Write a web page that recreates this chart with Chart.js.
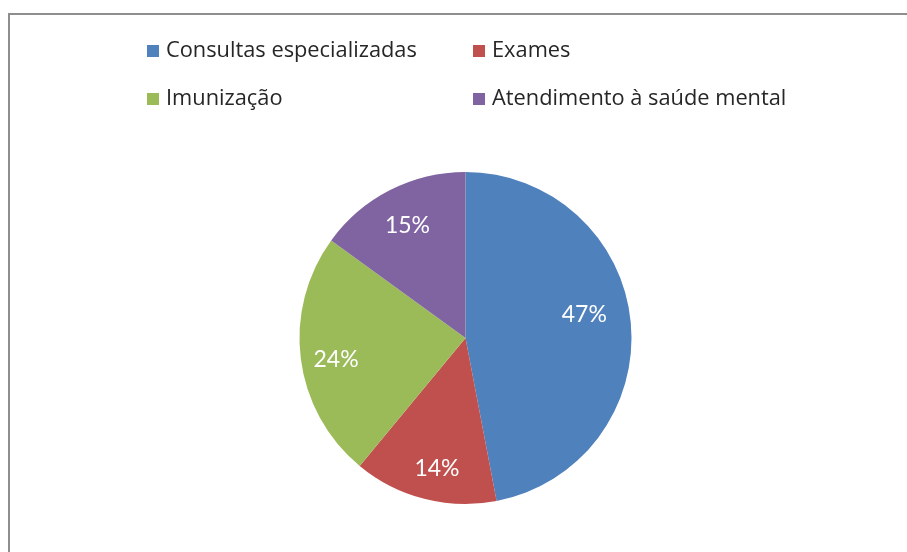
<!DOCTYPE html>
<html>
<head>
<meta charset="utf-8">
<script src="https://cdn.jsdelivr.net/npm/chart.js@4.4.1/dist/chart.umd.min.js"></script>
<style>
  html, body { margin: 0; padding: 0; background: #ffffff; overflow: hidden; }
  #frame { position: absolute; left: 8px; top: 13px; width: 1000px; height: 700px;
           border-left: 2px solid #8e8e8e; border-top: 2px solid #8e8e8e; box-sizing: border-box; }
  #wrap { position: absolute; left: 0; top: 0; width: 907px; height: 552px; }
</style>
</head>
<body>
<div id="frame"></div>
<div id="wrap"><canvas id="c" width="907" height="552"></canvas></div>
<script>
const categories = ['Consultas especializadas', 'Exames', 'Imunização', 'Atendimento à saúde mental'];
const shares = [47, 14, 24, 15];
const valueLabels = ['47%', '14%', '24%', '15%'];
const sliceColors = ['#4F81BD', '#C0504D', '#9BBB59', '#8064A2'];

const LEGEND_FONT = '"Open Sans", Lato, sans-serif';
const LABEL_FONT = 'Lato, "Noto Sans", sans-serif';

const legendPlugin = {
  id: 'gridLegend',
  afterDraw(chart) {
    const ctx = chart.ctx;
    const colX = [147, 473];
    const rowY = [51, 99];
    ctx.save();
    ctx.font = '21.8px ' + LEGEND_FONT;
    ctx.textBaseline = 'middle';
    categories.forEach((name, i) => {
      const x = colX[i % 2], y = rowY[Math.floor(i / 2)];
      ctx.fillStyle = sliceColors[i];
      ctx.fillRect(x, y - 6, 12, 12);
      ctx.fillStyle = '#262626';
      ctx.textAlign = 'left';
      ctx.fillText(name, x + 19, y);
    });
    ctx.restore();
  }
};

const sliceLabelPlugin = {
  id: 'sliceLabels',
  afterDatasetsDraw(chart) {
    const ctx = chart.ctx;
    const meta = chart.getDatasetMeta(0);
    ctx.save();
    ctx.font = '23px ' + LABEL_FONT;
    ctx.fillStyle = '#ffffff';
    ctx.textAlign = 'center';
    ctx.textBaseline = 'middle';
    const tweaks = [[0.73, -6], [0.8, -2], [0.79, -2], [0.77, 0]];
    meta.data.forEach((arc, i) => {
      const p = arc.getProps(['x', 'y', 'startAngle', 'endAngle', 'outerRadius']);
      const mid = (p.startAngle + p.endAngle) / 2 + tweaks[i][1] * Math.PI / 180;
      const r = p.outerRadius * tweaks[i][0];
      ctx.fillText(valueLabels[i], p.x + Math.cos(mid) * r, p.y + Math.sin(mid) * r + 1);
    });
    ctx.restore();
  }
};

new Chart(document.getElementById('c'), {
  type: 'pie',
  data: {
    labels: categories,
    datasets: [{
      data: shares,
      backgroundColor: sliceColors,
      borderWidth: 0
    }]
  },
  options: {
    responsive: false,
    animation: false,
    layout: { padding: { left: 24, right: 0, top: 172, bottom: 48 } },
    plugins: {
      legend: { display: false },
      tooltip: { enabled: false },
      title: { display: false }
    }
  },
  plugins: [sliceLabelPlugin, legendPlugin]
});
</script>
</body>
</html>
